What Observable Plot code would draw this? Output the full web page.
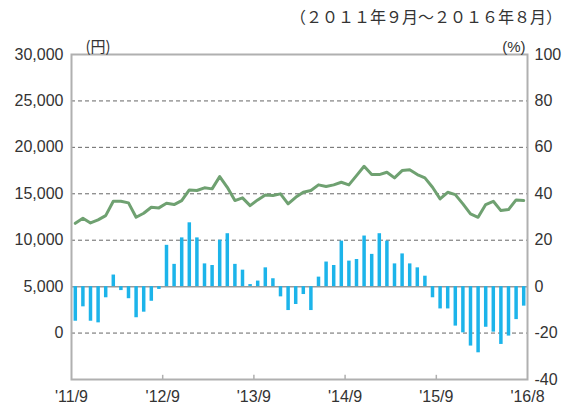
<!DOCTYPE html>
<html><head><meta charset="utf-8">
<script src="https://cdn.jsdelivr.net/npm/d3@7"></script>
<script src="https://cdn.jsdelivr.net/npm/@observablehq/plot@0.6"></script>
<style>
body{margin:0;background:#fff;}
#wrap{position:relative;width:568px;height:410px;}
#title{position:absolute;top:6px;right:6px;font-family:"Noto Sans CJK JP";font-size:16px;line-height:20px;color:#333;white-space:nowrap;}
</style></head><body>
<div id="wrap"><div id="title">（２０１１年９月～２０１６年８月）</div></div>
<script>
// monthly price (yen, left axis) — 2011/9 .. 2016/8
const priceYen = [11820,12360,11860,12190,12650,14190,14190,14020,12470,12900,13550,13480,
  13980,13840,14270,15420,15350,15640,15530,16850,15700,14270,14560,13730,
  14340,14880,14810,14990,13910,14620,15160,15350,15960,15780,15960,16240,
  15960,16960,17960,17070,17070,17320,16710,17500,17580,17070,16710,15700,
  14450,15160,14910,13910,12830,12470,13840,14190,13190,13300,14340,14270];
// year-on-year change (%, right axis)
const changePct = [-14.9,-8.7,-14.9,-15.6,-4.8,5.0,-1.7,-5.2,-13.4,-11.0,-6.3,-1.2,
  17.8,9.6,21.0,27.5,21.0,9.8,9.1,20.0,22.8,9.6,7.1,0.9,
  2.4,8.1,3.4,-4.4,-10.3,-7.7,-3.4,-10.3,4.1,10.6,9.1,19.6,
  11.0,11.7,21.8,13.9,22.8,19.6,9.8,14.1,9.8,8.1,4.5,-4.8,
  -9.6,-9.6,-17.0,-19.9,-25.6,-28.5,-17.5,-19.6,-24.9,-21.3,-14.2,-8.4];
const xTickPos = [0,12,24,36,48,60];
const xTickLabels = ["'11/9","'12/9","'13/9","'14/9","'15/9","'16/8"];
const leftTicks = [0,5000,10000,15000,20000,25000,30000];
const rightTickLabels = [-40,-20,0,20,40,60,80,100];
const gridYen = [0,10000,15000,20000,25000];

// right axis (%) mapped onto left axis (yen): 0% = 5,000円, 20% = 5,000円
const pctToYen = p => 5000 + p * 250;
const rightTickYen = rightTickLabels.map(pctToYen);
const rows = priceYen.map((p, i) => ({i, price: p, pct: changePct[i]}));

const chart = Plot.plot({
  width: 568, height: 410,
  marginTop: 54, marginBottom: 31, marginLeft: 71, marginRight: 41,
  style: {fontFamily: "'Liberation Sans', Arial, sans-serif", fontSize: "15px", color: "#333", background: "#fff", overflow: "visible"},
  x: {type: "linear", domain: [0, 60], label: null},
  y: {domain: [-5000, 30000], label: null},
  marks: [
    Plot.ruleY(gridYen, {stroke: "#666", strokeDasharray: "4,3", strokeWidth: 1}),
    Plot.ruleY([5000], {stroke: "#999", strokeWidth: 1.5}),
    Plot.ruleX(rows, {x: d => d.i + 0.5, y1: 5000, y2: d => pctToYen(d.pct), stroke: "#1cb4ea", strokeWidth: 3.5}),
    Plot.line(rows, {x: d => d.i + 0.5, y: "price", stroke: "#6fa171", strokeWidth: 3, strokeLinejoin: "round"}),
    Plot.frame({stroke: "#b0b0b0", strokeWidth: 2}),
    Plot.ruleX(xTickPos.slice(1, -1), {y1: -5000, y2: -4550, stroke: "#b0b0b0", strokeWidth: 1.5}),
    Plot.axisX({ticks: xTickPos, tickFormat: d => xTickLabels[xTickPos.indexOf(d)], tickSize: 0, tickPadding: 11, fontSize: 16, fill: "#333", label: null}),
    Plot.axisY({anchor: "left", ticks: leftTicks, tickFormat: d3.format(","), tickSize: 0, tickPadding: 8, fontSize: 16, fill: "#333", label: null}),
    Plot.axisY({anchor: "right", ticks: rightTickYen, tickFormat: d => String(rightTickLabels[rightTickYen.indexOf(d)]), tickSize: 0, tickPadding: 7, fontSize: 16, fill: "#333", label: null}),
    Plot.text(["(円)"], {text: d => d, frameAnchor: "top-left", dx: 14, dy: -13, fontSize: 15, fill: "#333", textAnchor: "start", fontFamily: "Noto Sans CJK JP"}),
    Plot.text(["(%)"], {text: d => d, frameAnchor: "top-right", dx: -2, dy: -13, fontSize: 15, fill: "#333", textAnchor: "end"})
  ]
});
document.getElementById("wrap").prepend(chart);
</script>
</body></html>
